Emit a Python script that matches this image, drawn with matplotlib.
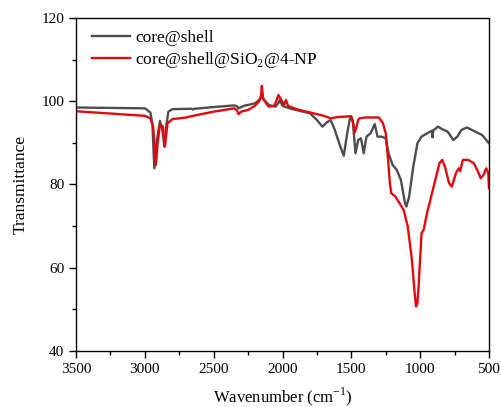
import numpy as np
import matplotlib
matplotlib.use('Agg')
import matplotlib.pyplot as plt
from matplotlib.ticker import MultipleLocator

# wavenumber (cm-1) and transmittance
wn_cs = [3500, 3000, 2960, 2945, 2931, 2915, 2890, 2872, 2858, 2845, 2829, 2800,
         2660, 2650, 2640, 2500, 2350, 2330, 2320, 2300, 2280, 2200, 2170, 2155,
         2150, 2140, 2100, 2050, 2030, 2020, 2010, 2000, 1950, 1900, 1800, 1750,
         1710, 1680, 1650, 1620, 1580, 1555, 1530, 1510, 1490, 1470, 1450, 1430,
         1410, 1390, 1360, 1330, 1310, 1280, 1250, 1230, 1200, 1170, 1140, 1110,
         1100, 1080, 1050, 1020, 990, 950, 915, 910, 905, 870, 840, 800, 760,
         730, 700, 660, 600, 550, 500]
t_cs = [98.5, 98.3, 97.3, 94.5, 83.9, 90.0, 95.3, 93.0, 89.1, 94.0, 97.5, 98.1,
        98.2, 98.0, 98.2, 98.6, 99.0, 98.8, 98.3, 98.6, 98.9, 99.5, 100.3, 100.8,
        101.6, 100.6, 99.1, 98.7, 99.6, 100.3, 99.6, 98.9, 98.3, 97.9, 97.1, 95.5,
        93.9, 94.9, 95.5, 93.1, 89.1, 86.9, 92.3, 95.9, 95.5, 87.5, 90.7, 91.1,
        87.5, 91.5, 92.3, 94.5, 91.5, 91.5, 91.1, 87.5, 84.7, 83.5, 81.1, 75.5,
        74.7, 77.1, 84.3, 89.9, 91.5, 92.3, 92.9, 91.3, 93.0, 93.9, 93.3, 92.7,
        90.7, 91.5, 93.1, 93.7, 92.7, 91.9, 89.9]

wn_np = [3500, 3000, 2960, 2940, 2930, 2920, 2905, 2890, 2870, 2855, 2835, 2800,
         2700, 2650, 2500, 2350, 2330, 2320, 2300, 2250, 2200, 2170, 2155, 2150,
         2140, 2100, 2060, 2040, 2030, 2015, 1990, 1975, 1960, 1900, 1800, 1700,
         1650, 1600, 1500, 1485, 1475, 1465, 1450, 1440, 1400, 1300, 1270, 1250,
         1235, 1220, 1210, 1180, 1150, 1120, 1090, 1060, 1040, 1030, 1020, 1010,
         990, 975, 950, 920, 890, 860, 840, 820, 790, 770, 740, 720, 710, 700,
         690, 650, 610, 580, 560, 540, 520, 505, 500]
t_np = [97.6, 96.5, 95.9, 93.9, 90.0, 84.7, 90.5, 94.3, 94.0, 89.1, 94.7, 95.7,
        96.1, 96.5, 97.5, 98.3, 97.8, 96.9, 97.5, 97.9, 98.9, 100.0, 101.5, 103.7,
        100.5, 98.7, 98.9, 100.5, 101.5, 100.7, 99.1, 100.3, 98.9, 98.1, 97.3, 96.5,
        95.9, 96.2, 96.4, 94.5, 92.5, 93.5, 95.5, 95.9, 96.1, 96.1, 94.7, 92.3,
        86.7, 80.3, 77.9, 77.1, 75.5, 73.9, 69.9, 61.9, 53.9, 50.7, 51.5, 56.3,
        68.3, 69.1, 73.1, 77.1, 81.1, 85.1, 85.9, 84.3, 80.3, 79.5, 82.7, 83.9,
        83.2, 84.5, 85.9, 85.9, 85.1, 83.1, 81.5, 82.3, 83.9, 82.7, 79.1]

labels = ['core@shell', r'core@shell@SiO$_2$@4-NP']
colors = ['#4d4d4d', '#e3080f']

plt.rcParams['font.family'] = ['Liberation Serif', 'DejaVu Serif']
plt.rcParams['mathtext.fontset'] = 'custom'
plt.rcParams['mathtext.rm'] = 'Liberation Serif'

fig = plt.figure(figsize=(5.02, 4.07), dpi=100)
ax = fig.add_axes([76/502, 1-351/407, 413/502, 333/407])

ax.plot(wn_cs, t_cs, color=colors[0], lw=1.7, label=labels[0])
ax.plot(wn_np, t_np, color=colors[1], lw=1.7, label=labels[1])

ax.set_xlim(3500, 500)
ax.set_ylim(40, 120)
ax.xaxis.set_major_locator(MultipleLocator(500))
ax.xaxis.set_minor_locator(MultipleLocator(250))
ax.yaxis.set_major_locator(MultipleLocator(20))
ax.yaxis.set_minor_locator(MultipleLocator(10))
ax.tick_params(which='major', direction='out', length=5, width=1, labelsize=11)
ax.tick_params(which='minor', direction='out', length=3, width=1)
for s in ax.spines.values():
    s.set_linewidth(1.0)

ax.set_xlabel('Wavenumber (cm$^{-1}$)', fontsize=12, labelpad=7)
ax.set_ylabel('Transmittance', fontsize=12.5, labelpad=9)

ax.legend(loc='upper left', frameon=False, fontsize=12.5,
          handlelength=2.2, handletextpad=0.3, labelspacing=0.2,
          bbox_to_anchor=(0.0, 1.01))

fig.savefig('out.png', dpi=100)
